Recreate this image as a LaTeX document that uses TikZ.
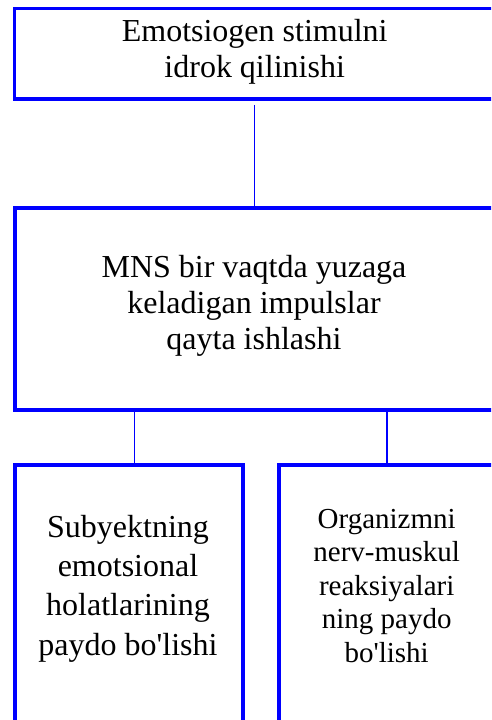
\documentclass[tikz,border=0pt]{standalone}
\usepackage{fontspec}
\setmainfont{Liberation Serif}
\newfontfamily\lserif{Liberation Serif}
\usetikzlibrary{fit}
\definecolor{boxblue}{RGB}{0,0,255}
\tikzset{
  box/.style={draw=boxblue, line width=3.5pt, inner sep=0pt, rectangle},
  lbl/.style={align=center, inner sep=0pt, font=\lserif\fontsize{32}{36}\selectfont},
  conn/.style={draw=boxblue, line width=1.2pt}
}
\begin{document}
\begin{tikzpicture}[x=1pt,y=-1pt]
\useasboundingbox (0,0) rectangle (491,720);
\clip (0,0) rectangle (491,720);
% boxes
\node[box, fit={(14.7,8.5) (530,99)}] (b1) {};
\node[box, fit={(15,208) (530,410)}] (b2) {};
\node[box, fit={(15,465) (243,760)}] (b3) {};
\node[box, fit={(279,465) (530,760)}] (b4) {};
% texts
\node[lbl] (t1) at (254.7,51.5) {Emotsiogen stimulni\\idrok qilinishi};
\node[lbl] (t2) at (254,305.8) {MNS bir vaqtda yuzaga\\keladigan impulslar\\qayta ishlashi};
\node[lbl, font=\lserif\fontsize{32}{39.3}\selectfont] (t3) at (128,588.4) {Subyektning\\emotsional\\holatlarining\\paydo bo'lishi};
\node[lbl, font=\lserif\fontsize{29}{33.5}\selectfont] (t4) at (386.7,585.6) {Organizmni\\nerv-muskul\\reaksiyalari\\ning paydo\\bo'lishi};
% connector columns
\coordinate (j1) at (254.5,0);
\coordinate (j2) at (134.7,0);
\coordinate (j3) at (387,0);
\draw[conn] ([yshift=-4pt]j1 |- b1.south) -- (j1 |- b2.north);
\draw[conn] (j2 |- b2.south) -- (j2 |- b3.north);
\draw[conn] (j3 |- b2.south) -- (j3 |- b4.north);
\end{tikzpicture}
\end{document}
